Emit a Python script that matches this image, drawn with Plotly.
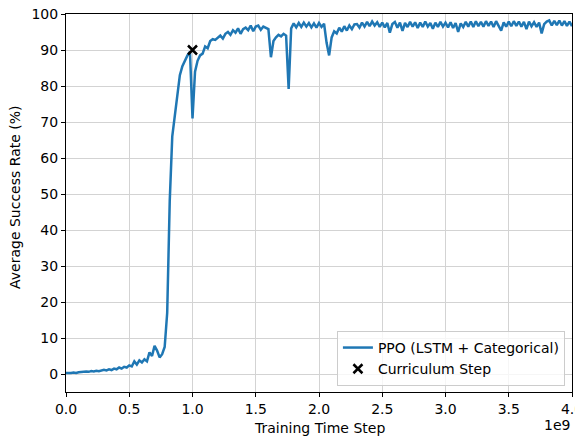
import plotly.graph_objects as go

step_size = 0.02e9
success_rate = [
    0.3, 0.2, 0.3, 0.4, 0.3, 0.5, 0.6, 0.5, 0.7, 0.6,
    0.8, 0.7, 0.9, 0.8, 1.0, 1.2, 1.0, 1.3, 1.1, 1.5,
    1.3, 1.8, 1.5, 2.0, 1.8, 2.4, 2.1, 3.5, 2.6, 3.8,
    3.2, 4.1, 3.5, 6.0, 5.0, 7.8, 6.5, 4.6, 5.5, 7.5,
    17.0, 48.0, 66.0, 72.0, 78.0, 83.0, 85.5, 87.0, 88.5, 89.5,
    71.0, 84.0, 87.0, 88.5, 89.0, 91.0, 90.5, 92.5, 93.0, 92.8,
    93.5, 94.0, 93.2, 94.5, 95.0, 94.2, 95.5, 94.8, 96.0, 94.5,
    95.8, 96.2, 95.5, 96.8, 95.2, 96.5, 96.8, 95.6, 96.5, 96.2,
    95.8, 88.0, 92.5, 93.5, 94.2, 93.8, 94.5, 94.0, 79.2, 96.0,
    97.4, 96.3, 97.5, 96.4, 97.6, 96.5, 97.5, 96.3, 97.4, 96.2,
    97.5, 96.4, 97.3, 92.0, 88.5, 93.5, 95.2, 94.6, 96.2, 95.1,
    96.6, 95.4, 96.8, 95.8, 97.1, 97.2, 96.2, 97.6, 96.5, 97.8,
    96.6, 97.9, 96.8, 97.7, 96.4, 97.6, 96.3, 97.5, 94.8, 97.2,
    97.8, 96.2, 97.6, 95.3, 97.5, 96.4, 97.8, 96.5, 97.7, 96.1,
    97.6, 96.4, 97.9, 96.5, 97.5, 95.9, 97.6, 96.4, 97.8, 96.5,
    97.6, 96.3, 97.7, 96.1, 97.5, 95.0, 97.4, 96.4, 97.8, 96.5,
    97.9, 96.4, 98.0, 96.6, 97.8, 96.5, 98.0, 96.7, 97.9, 96.4,
    98.0, 96.7, 95.4, 97.7, 96.5, 97.9, 96.6, 98.0, 96.7, 97.9,
    96.5, 97.8, 95.8, 97.9, 96.6, 97.7, 96.4, 97.6, 94.6, 97.2,
    97.9, 98.2, 96.8, 98.1, 96.9, 98.2, 96.8, 98.0, 96.7, 97.9,
    96.6,
]
time_steps = [i * step_size for i in range(len(success_rate))]

curriculum_steps = [1.0e9]
curriculum_rates = [90.0]

x_tick_vals = [0, 0.5e9, 1.0e9, 1.5e9, 2.0e9, 2.5e9, 3.0e9, 3.5e9, 4.0e9]
x_tick_text = ["0.0", "0.5", "1.0", "1.5", "2.0", "2.5", "3.0", "3.5", "4.0"]

FONT = "DejaVu Sans"
FS = 14

fig = go.Figure()
fig.add_trace(go.Scatter(
    x=time_steps, y=success_rate, mode="lines",
    name="PPO (LSTM + Categorical)",
    line=dict(color="#1f77b4", width=2.5),
))
fig.add_trace(go.Scatter(
    x=curriculum_steps, y=curriculum_rates, mode="markers",
    name="Curriculum Step",
    marker=dict(symbol="x-thin", size=9, color="black",
                line=dict(width=2.5, color="black")),
))

axis_common = dict(
    showline=True, linecolor="black", linewidth=1, mirror=True,
    ticks="outside", ticklen=4, tickcolor="black", tickwidth=1,
    showgrid=True, gridcolor="#d3d3d3", gridwidth=1,
    zeroline=False, automargin=False, ticklabeloverflow="allow",
    tickfont=dict(family=FONT, size=FS, color="black"),
)

# the page body has an 8px margin, so the figure is offset by 8px
fig.update_layout(
    width=583, height=428,
    margin=dict(l=58, r=19, t=6, b=44),
    plot_bgcolor="white", paper_bgcolor="white",
    font=dict(family=FONT, size=FS, color="black"),
    xaxis=dict(range=[0, 4.0e9], tickvals=x_tick_vals, ticktext=x_tick_text,
               **axis_common),
    yaxis=dict(range=[-5, 100], dtick=10, **axis_common),
    legend=dict(x=0.986, y=0.016, xanchor="right", yanchor="bottom",
                bgcolor="rgba(255,255,255,0.8)", bordercolor="#cccccc",
                borderwidth=1, font=dict(family=FONT, size=FS),
                tracegroupgap=0, itemwidth=30),
    showlegend=True,
    annotations=[
        dict(text="1e9", x=1.0, y=0, xref="paper", yref="paper",
             xanchor="right", yanchor="middle", yshift=-33, showarrow=False,
             font=dict(family=FONT, size=FS)),
        dict(text="Training Time Step", x=0.5, y=0, xref="paper", yref="paper",
             xanchor="center", yanchor="middle", yshift=-36, showarrow=False,
             font=dict(family=FONT, size=FS)),
        dict(text="Average Success Rate (%)", x=0, y=0.5, xref="paper",
             yref="paper", xanchor="center", yanchor="middle", xshift=-51,
             yshift=6, textangle=-90, showarrow=False,
             font=dict(family=FONT, size=FS)),
    ],
)

fig.write_html("out.html")
